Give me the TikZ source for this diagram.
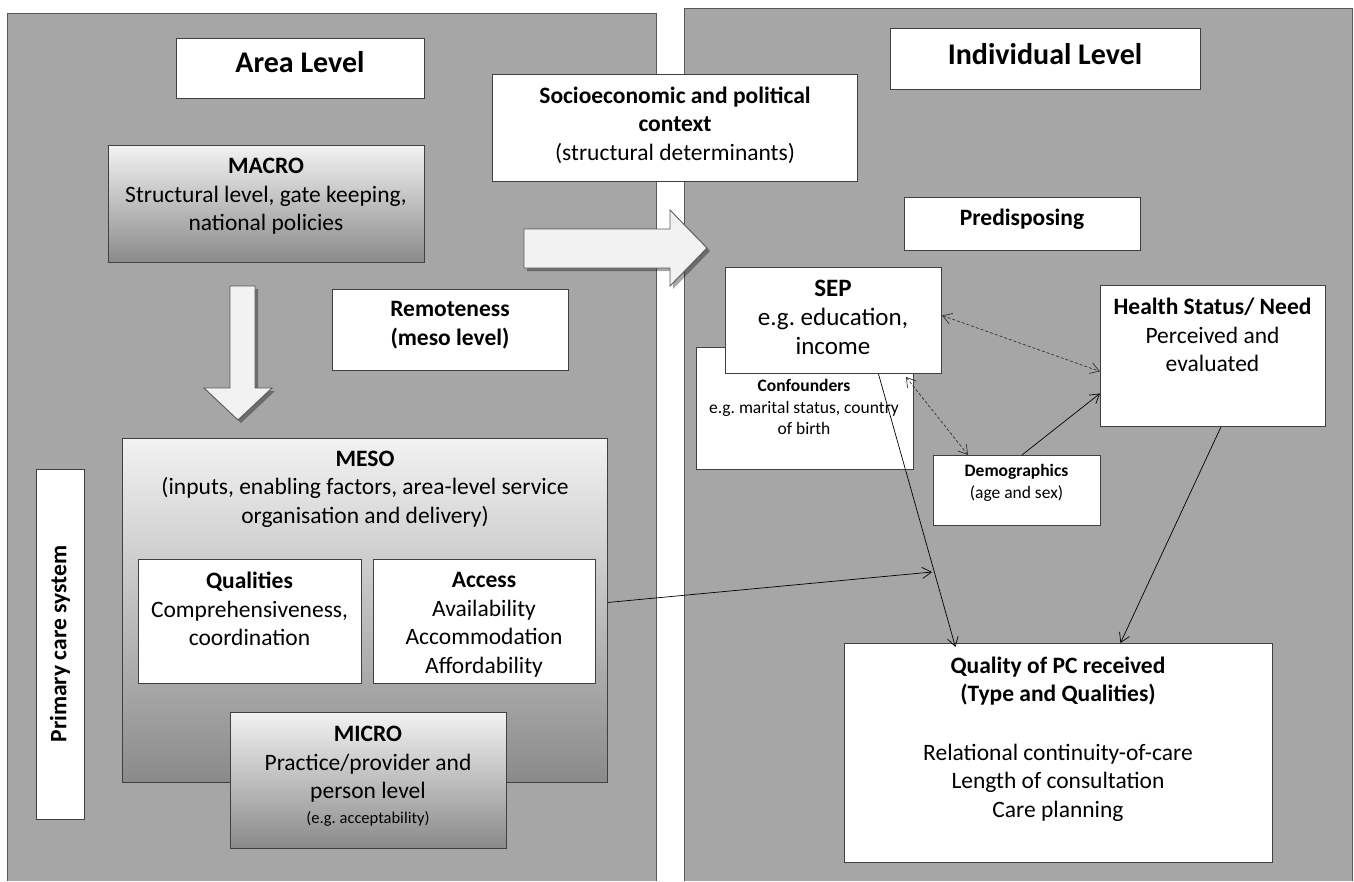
\documentclass[tikz,border=0pt]{standalone}
\usepackage{fontspec}
\setmainfont{Carlito}
\usetikzlibrary{arrows.meta,shadows}
\definecolor{panelgray}{HTML}{A6A6A6}
\definecolor{paneledge}{HTML}{595959}
\definecolor{boxedge}{HTML}{404040}
\definecolor{gtop}{HTML}{F2F2F2}
\definecolor{gbot}{HTML}{8A8A8A}
\definecolor{arrowfill}{HTML}{F2F2F2}
\newcommand\fbig{\fontsize{30}{36}\selectfont\bfseries}
\newcommand\fmain{\fontsize{23.5}{28.5}\selectfont}
\newcommand\fsmall{\fontsize{17.5}{21.5}\selectfont}
\newcommand\ftiny{\fontsize{16.5}{20}\selectfont}
\frenchspacing
\tikzset{
  panel/.style={fill=panelgray},
  paneline/.style={draw=paneledge, line width=1},
  box/.style={draw=boxedge, fill=white, line width=0.9, inner sep=0, anchor=north west},
  gbox/.style={box, top color=gtop, bottom color=gbot},
  txt/.style={align=center, inner sep=0, font=\fmain},
  blockarrow/.style={fill=arrowfill, draw=gray!70!black, line width=0.9,
     drop shadow={shadow xshift=3pt, shadow yshift=-3pt, opacity=0.35, fill=black}},
  conn/.style={draw=black, line width=0.7, -{Straight Barb[length=9,width=11]}},
  dconn/.style={draw=black!80, line width=0.7, dash pattern=on 3pt off 2pt,
     {Straight Barb[length=9,width=11]}-{Straight Barb[length=9,width=11]}}
}
\begin{document}
\begin{tikzpicture}[x=1pt,y=-1pt]
\useasboundingbox (0,0) rectangle (1354,881);
% panels
\fill[white] (0,0) rectangle (1354,881);
\path[panel] (7,13) rectangle (656,881);
\path[panel] (684,8) rectangle (1352,881);
\draw[paneline] (7,881) -- (7,13) -- (656,13) -- (656,881);
\draw[paneline] (684,881) -- (684,8) -- (1352,8) -- (1352,881);

% block arrows
\path[blockarrow] (230,286) -- (255,286) -- (255,388) -- (272,388) -- (238,420)
   -- (204,388) -- (230,388) -- cycle;
\path[blockarrow] (524,229) -- (670,229) -- (670,210) -- (707,248) -- (670,286)
   -- (670,268) -- (524,268) -- cycle;

% left side boxes
\node[box, minimum width=248, minimum height=60] (area) at (176,38) {};
\node[txt, font=\fbig] (areaT) at (300,62) {Area Level};

\node[box, minimum width=365, minimum height=107] (socio) at (492,74) {};
\node[txt] (socioT) at (675,125) {\textbf{Socioeconomic and political}\\\textbf{context}\\(structural determinants)};

\node[gbox, minimum width=316, minimum height=117] (macro) at (108,145) {};
\node[txt] (macroT) at (266,196.5) {\textbf{MACRO}\\Structural level, gate keeping,\\national policies};

\node[box, minimum width=236, minimum height=81] (remote) at (332,289) {};
\node[txt, font=\fmain\bfseries] (remoteT) at (450,325) {Remoteness\\(meso level)};

\node[box, minimum width=48, minimum height=350] (pcs) at (36,469) {};
\node[txt, font=\fontsize{23.5}{28}\selectfont\bfseries, rotate=90] (pcsT) at (60,644) {Primary care system};

\node[gbox, minimum width=485, minimum height=344] (meso) at (122,438) {};
\node[txt] (mesoT) at (365,489) {\textbf{MESO}\\(inputs, enabling factors, area-level service\\organisation and delivery)};

\node[box, minimum width=223, minimum height=124] (qual) at (138,559) {};
\node[txt] (qualT) at (249.5,609) {\textbf{Qualities}\\Comprehensiveness,\\coordination};

\node[box, minimum width=222, minimum height=124] (access) at (373,559) {};
\node[txt] (accessT) at (484,625) {\textbf{Access}\\Availability\\Accommodation\\Affordability};

\node[gbox, minimum width=276, minimum height=136] (micro) at (230,712) {};
\node[txt] (microT) at (368,776) {\textbf{MICRO}\\Practice/provider and\\person level\\[-4pt]{\ftiny (e.g. acceptability)}};

% right side boxes
\node[box, minimum width=310, minimum height=61] (indiv) at (890,28) {};
\node[txt, font=\fbig] (indivT) at (1045,54) {Individual Level};

\node[box, minimum width=236, minimum height=53] (predis) at (904,197) {};
\node[txt, font=\fmain\bfseries] (predisT) at (1022,219) {Predisposing};

\node[box, minimum width=217, minimum height=122] (conf) at (696,347) {};
\node[txt, font=\fsmall] (confT) at (804,407) {\textbf{Confounders}\\e.g. marital status, country\\of birth};

\node[box, minimum width=216, minimum height=106] (sep) at (725,267) {};
\node[txt, font=\fontsize{25}{29}\selectfont] (sepT) at (833,317) {\textbf{SEP}\\e.g. education,\\income};

\node[box, minimum width=225, minimum height=141] (health) at (1100,285) {};
\node[txt] (healthT) at (1212.5,335) {\textbf{Health Status/ Need}\\Perceived and\\evaluated};

\node[box, minimum width=167, minimum height=70] (demo) at (933,455) {};
\node[txt, font=\fsmall] (demoT) at (1016.5,483) {\textbf{Demographics}\\(age and sex)};

\node[box, minimum width=428, minimum height=219] (qpc) at (844,643) {};
\node[txt] (qpcT) at (1058,739) {\textbf{Quality of PC received}\\\textbf{(Type and Qualities)}\\[30pt]Relational continuity-of-care\\Length of consultation\\Care planning};

% connectors
\coordinate (accEnd) at (932,572);
\draw[conn] ([yshift=8]meso.east) -- (accEnd);
\draw[conn] ([xshift=45]sep.south) -- ([xshift=-103,yshift=-4]qpc.north);
\draw[conn] ([xshift=8]health.south) -- ([xshift=62]qpc.north);
\draw[conn] ([xshift=5]demo.north) -- ([yshift=-37.5]health.west);
\draw[dconn] ([yshift=5]sep.east) -- ([yshift=-15.5]health.west);
\draw[dconn] ([xshift=-36,yshift=-3]sep.south east) -- ([xshift=35]demo.north west);
\end{tikzpicture}
\end{document}
